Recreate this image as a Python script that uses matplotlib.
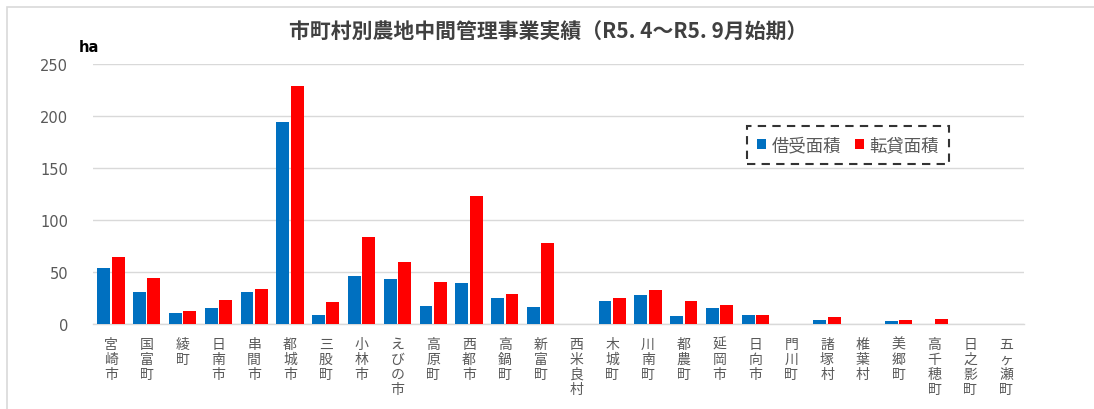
import matplotlib
matplotlib.use("Agg")
import matplotlib.pyplot as plt
import matplotlib.patches as mpatches
import numpy as np

plt.rcParams['font.family'] = ['Noto Sans CJK JP', 'DejaVu Sans']

categories = ["宮崎市", "国富町", "綾町", "日南市", "串間市", "都城市", "三股町", "小林市", "えびの市",
              "高原町", "西都市", "高鍋町", "新富町", "西米良村", "木城町", "川南町", "都農町", "延岡市",
              "日向市", "門川町", "諸塚村", "椎葉村", "美郷町", "高千穂町", "日之影町", "五ヶ瀬町"]
borrowed = [54, 31, 10.5, 15.5, 30.5, 194.5, 9, 46.5, 43, 17.5, 39.5, 25, 16.5, 0, 22, 27.5, 8, 15.5,
            9, 0, 4, 0, 3, 0, 0, 0]
leased = [64.5, 44, 12.5, 23.5, 33.5, 228.5, 21.5, 83.5, 59.5, 40, 123.5, 29, 78, 0, 25, 32.5, 22, 18.5,
          9, 0, 7, 0, 4, 5, 0, 0]
series_names = ["借受面積", "転貸面積"]
title = "市町村別農地中間管理事業実績（R5. 4～R5. 9月始期）"
yticks = [0, 50, 100, 150, 200, 250]

fig = plt.figure(figsize=(10.94, 4.10), dpi=100)
ax = fig.add_axes([93/1094, 1-325/410, (1024-93)/1094, (325-65)/410])

x = np.arange(len(categories))
w = 0.36
ax.bar(x - 0.2, borrowed, w, color='#0070C0', label=series_names[0], zorder=3)
ax.bar(x + 0.2, leased, w, color='#FF0000', label=series_names[1], zorder=3)

ax.set_xlim(-0.5, len(categories) - 0.5)
ax.set_ylim(0, 250)
ax.set_yticks(yticks)
ax.set_yticklabels([str(v) for v in yticks], color='#595959', fontsize=10.5, family='DejaVu Sans')
ax.tick_params(axis='y', length=0, pad=18)
ax.tick_params(axis='x', length=0, pad=9)
ax.set_xticks(x)
ax.set_xticklabels(['\n'.join(c) for c in categories], color='#595959', fontsize=10,
                   linespacing=1.1, va='top')
ax.grid(axis='y', color='#d9d9d9', lw=1, zorder=0)
for s in ['top', 'right', 'left']:
    ax.spines[s].set_visible(False)
ax.spines['bottom'].set_color('#d9d9d9')
ax.spines['bottom'].set_linewidth(1)

fig.text(548/1094, 1-32/410, title, ha='center', va='center', fontsize=15,
         fontweight='bold', color='#404040')
fig.text(89/1094, 1-47/410, "ha", ha='center', va='center', fontsize=10.5,
         fontweight='bold', color='black', family='DejaVu Sans')

leg = ax.legend(loc='center', bbox_to_anchor=(848/1094, 1-146/410), bbox_transform=fig.transFigure,
                ncol=2, frameon=True, fancybox=False, handlelength=0.55, handleheight=0.55,
                handletextpad=0.3, columnspacing=0.8, fontsize=12.5, borderpad=0.55,
                borderaxespad=0)
fr = leg.get_frame()
fr.set_edgecolor('black')
fr.set_linestyle((0, (4, 3)))
fr.set_linewidth(1.5)
for t in leg.get_texts():
    t.set_color('#595959')

fig.patches.append(mpatches.Rectangle((7/1094, -0.1), 1.2, 1 - 8/410 + 0.1, transform=fig.transFigure,
                                      fill=False, edgecolor='#d9d9d9', lw=1.2))

fig.savefig('out.png', dpi=100)
